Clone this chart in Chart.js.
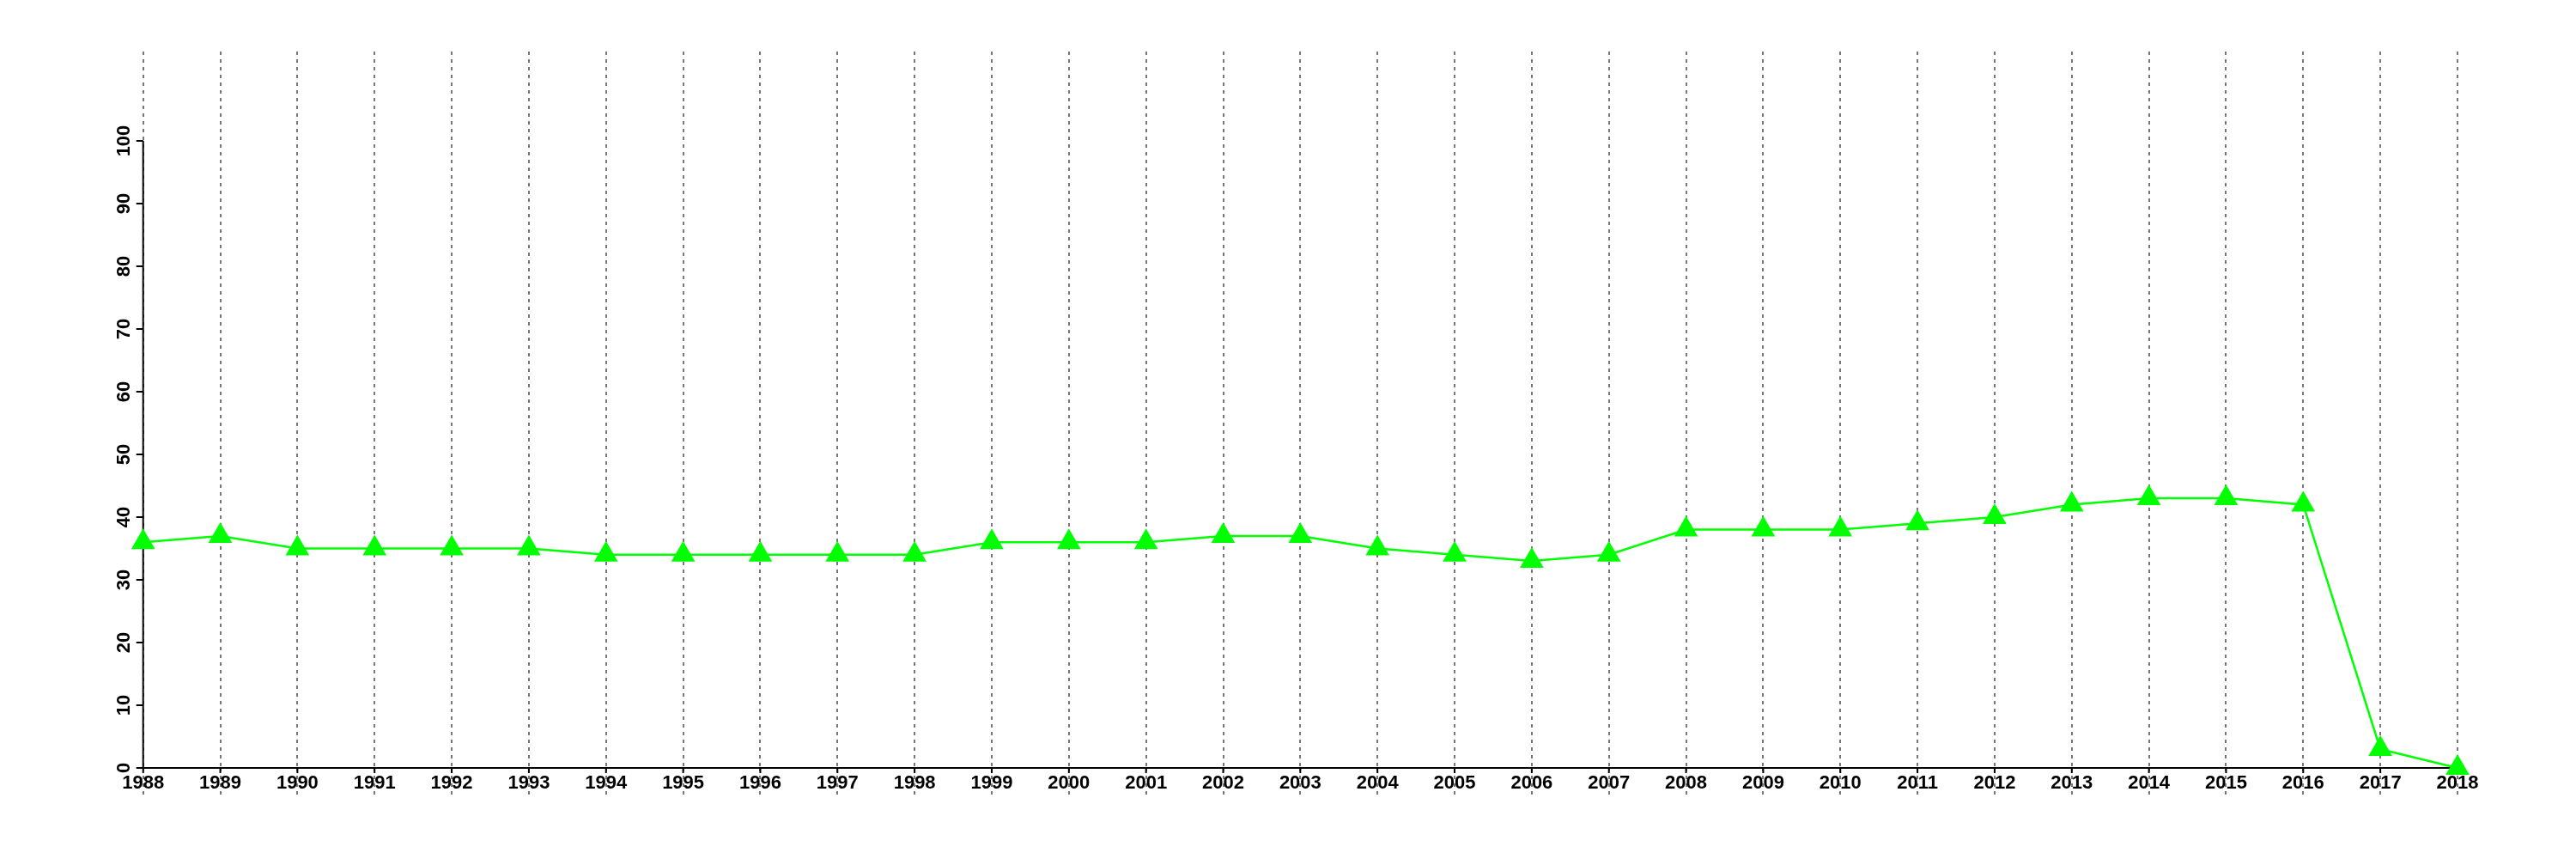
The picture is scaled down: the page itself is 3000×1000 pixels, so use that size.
<!DOCTYPE html>
<html>
<head>
<meta charset="utf-8">
<script src="https://cdn.jsdelivr.net/npm/chart.js@4/dist/chart.umd.min.js"></script>
<style>
  html, body { margin: 0; padding: 0; background: #ffffff; }
  #wrap { width: 3000px; height: 1000px; }
</style>
</head>
<body>
<div id="wrap"><canvas id="c" width="3000" height="1000"></canvas></div>
<script>
const years = ['1988','1989','1990','1991','1992','1993','1994','1995','1996','1997','1998','1999','2000','2001','2002','2003','2004','2005','2006','2007','2008','2009','2010','2011','2012','2013','2014','2015','2016','2017','2018'];
const values = [36,37,35,35,35,35,34,34,34,34,34,36,36,36,37,37,35,34,33,34,38,38,38,39,40,42,43,43,42,3,0];
const yTicks = [0,10,20,30,40,50,60,70,80,90,100];

const FONT = { family: '"Liberation Sans", Arial, Helvetica, sans-serif', size: 22, weight: 'bold' };

const axesPlugin = {
  id: 'axesPlugin',
  beforeDatasetsDraw(chart) {
    const ctx = chart.ctx;
    const x = chart.scales.x, y = chart.scales.y;
    const y0 = y.getPixelForValue(0);
    const yTop = y.getPixelForValue(yTicks[yTicks.length - 1]);
    const xl = x.getPixelForValue(0);
    const xr = x.getPixelForValue(years.length - 1);
    ctx.save();
    ctx.strokeStyle = '#000';
    ctx.lineWidth = 2;
    ctx.lineCap = 'butt';
    ctx.beginPath();
    ctx.moveTo(xl, y0); ctx.lineTo(xl, yTop);
    ctx.moveTo(xl - 1, y0); ctx.lineTo(xr + 1, y0);
    yTicks.forEach(v => {
      const py = y.getPixelForValue(v);
      ctx.moveTo(xl, py); ctx.lineTo(xl - 8, py);
    });
    years.forEach((_, i) => {
      const px = x.getPixelForValue(i);
      ctx.moveTo(px, y0); ctx.lineTo(px, y0 + 6);
    });
    ctx.stroke();
    ctx.fillStyle = '#000';
    ctx.font = 'bold 22px "Liberation Sans", Arial, Helvetica, sans-serif';
    ctx.textAlign = 'center';
    ctx.textBaseline = 'alphabetic';
    yTicks.forEach(v => {
      const py = y.getPixelForValue(v);
      ctx.save();
      ctx.translate(xl - 16, py);
      ctx.rotate(-Math.PI / 2);
      ctx.fillText(String(v), 0, 0);
      ctx.restore();
    });
    ctx.restore();
  }
};

new Chart(document.getElementById('c'), {
  type: 'line',
  data: {
    labels: years,
    datasets: [{
      data: values,
      borderColor: '#00ff00',
      backgroundColor: '#00ff00',
      borderWidth: 2.5,
      pointStyle: 'triangle',
      pointRadius: 16,
      pointBorderWidth: 0,
      pointBackgroundColor: '#00ff00',
      pointBorderColor: '#00ff00',
      tension: 0,
      fill: false,
      clip: false
    }]
  },
  options: {
    responsive: false,
    animation: false,
    devicePixelRatio: 1,
    layout: { padding: { left: 0, right: 138, top: 60, bottom: 0 } },
    plugins: { legend: { display: false }, tooltip: { enabled: false }, title: { display: false } },
    scales: {
      x: {
        type: 'category',
        offset: false,
        grid: {
          display: true, drawOnChartArea: true, drawTicks: true,
          color: '#777777', lineWidth: 2,
          tickLength: 34, tickColor: '#777777', tickWidth: 2, tickBorderDash: [4, 5]
        },
        border: { display: false, dash: [4, 5] },
        ticks: { color: '#000', font: FONT, padding: -29, maxRotation: 0, minRotation: 0, autoSkip: false },
        afterFit(scale) { scale.height = 106; }
      },
      y: {
        min: 0,
        max: 114.25,
        grid: { display: false },
        border: { display: false },
        ticks: { display: false, stepSize: 10 },
        afterFit(scale) { scale.width = 166.7; }
      }
    }
  },
  plugins: [axesPlugin]
});
</script>
</body>
</html>
